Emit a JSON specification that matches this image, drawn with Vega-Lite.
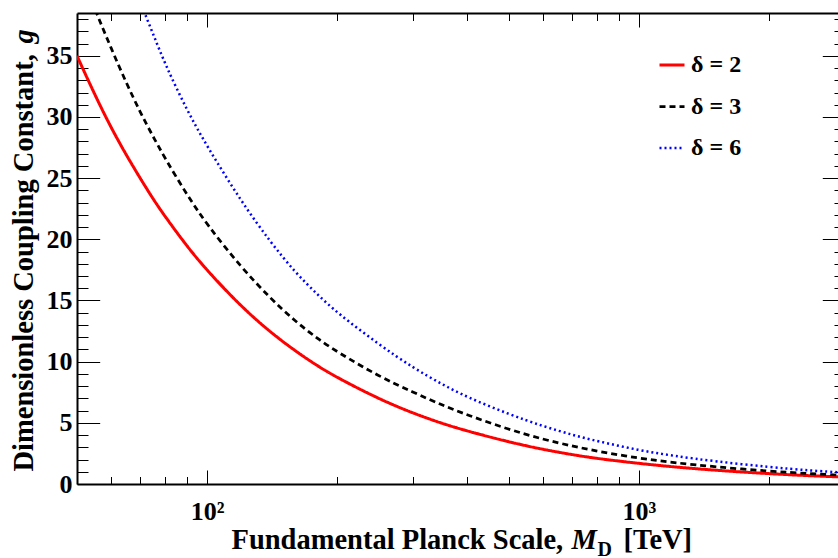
{
  "$schema": "https://vega.github.io/schema/vega-lite/v6.json",
  "width": 768,
  "height": 471,
  "autosize": {"type": "none"},
  "padding": {"left": 77, "top": 13, "right": 0, "bottom": 74},
  "background": "white",
  "config": {
    "view": {"stroke": null},
    "axis": {
      "grid": false,
      "domainColor": "black",
      "domainWidth": 2,
      "tickColor": "black",
      "tickWidth": 1,
      "labelFont": "Liberation Serif",
      "labelFontWeight": "bold",
      "labelFontSize": 26,
      "labelColor": "black",
      "titleFont": "Liberation Serif",
      "titleFontWeight": "bold",
      "titleFontSize": 28.5,
      "titleColor": "black",
      "labelFlush": false,
      "labelOverlap": false
    },
    "legend": {
      "labelFont": "Liberation Serif",
      "labelFontWeight": "bold",
      "labelFontSize": 24,
      "labelColor": "black"
    }
  },
  "data": {
    "values": [
      {"M": 50, "g": 35.0, "delta": "δ = 2"},
      {"M": 55, "g": 31.8, "delta": "δ = 2"},
      {"M": 60, "g": 29.1, "delta": "δ = 2"},
      {"M": 65, "g": 26.9, "delta": "δ = 2"},
      {"M": 70, "g": 25.0, "delta": "δ = 2"},
      {"M": 75, "g": 23.3, "delta": "δ = 2"},
      {"M": 80, "g": 21.85, "delta": "δ = 2"},
      {"M": 90, "g": 19.4, "delta": "δ = 2"},
      {"M": 100, "g": 17.45, "delta": "δ = 2"},
      {"M": 120, "g": 14.5, "delta": "δ = 2"},
      {"M": 140, "g": 12.42, "delta": "δ = 2"},
      {"M": 160, "g": 10.88, "delta": "δ = 2"},
      {"M": 180, "g": 9.66, "delta": "δ = 2"},
      {"M": 200, "g": 8.7, "delta": "δ = 2"},
      {"M": 250, "g": 6.95, "delta": "δ = 2"},
      {"M": 300, "g": 5.78, "delta": "δ = 2"},
      {"M": 350, "g": 4.95, "delta": "δ = 2"},
      {"M": 400, "g": 4.33, "delta": "δ = 2"},
      {"M": 500, "g": 3.43, "delta": "δ = 2"},
      {"M": 600, "g": 2.82, "delta": "δ = 2"},
      {"M": 700, "g": 2.4, "delta": "δ = 2"},
      {"M": 800, "g": 2.08, "delta": "δ = 2"},
      {"M": 1000, "g": 1.68, "delta": "δ = 2"},
      {"M": 1200, "g": 1.4, "delta": "δ = 2"},
      {"M": 1500, "g": 1.12, "delta": "δ = 2"},
      {"M": 2000, "g": 0.84, "delta": "δ = 2"},
      {"M": 2500, "g": 0.67, "delta": "δ = 2"},
      {"M": 3000, "g": 0.56, "delta": "δ = 2"},
      {"M": 50, "g": 42.6, "delta": "δ = 3"},
      {"M": 55, "g": 38.8, "delta": "δ = 3"},
      {"M": 60, "g": 35.6, "delta": "δ = 3"},
      {"M": 65, "g": 32.8, "delta": "δ = 3"},
      {"M": 70, "g": 30.4, "delta": "δ = 3"},
      {"M": 75, "g": 28.4, "delta": "δ = 3"},
      {"M": 80, "g": 26.6, "delta": "δ = 3"},
      {"M": 90, "g": 23.6, "delta": "δ = 3"},
      {"M": 100, "g": 21.2, "delta": "δ = 3"},
      {"M": 120, "g": 17.7, "delta": "δ = 3"},
      {"M": 140, "g": 15.2, "delta": "δ = 3"},
      {"M": 160, "g": 13.3, "delta": "δ = 3"},
      {"M": 180, "g": 11.9, "delta": "δ = 3"},
      {"M": 200, "g": 10.8, "delta": "δ = 3"},
      {"M": 250, "g": 8.8, "delta": "δ = 3"},
      {"M": 300, "g": 7.5, "delta": "δ = 3"},
      {"M": 350, "g": 6.45, "delta": "δ = 3"},
      {"M": 400, "g": 5.65, "delta": "δ = 3"},
      {"M": 500, "g": 4.45, "delta": "δ = 3"},
      {"M": 600, "g": 3.65, "delta": "δ = 3"},
      {"M": 700, "g": 3.1, "delta": "δ = 3"},
      {"M": 800, "g": 2.68, "delta": "δ = 3"},
      {"M": 1000, "g": 2.1, "delta": "δ = 3"},
      {"M": 1200, "g": 1.75, "delta": "δ = 3"},
      {"M": 1500, "g": 1.4, "delta": "δ = 3"},
      {"M": 2000, "g": 1.05, "delta": "δ = 3"},
      {"M": 2500, "g": 0.84, "delta": "δ = 3"},
      {"M": 3000, "g": 0.7, "delta": "δ = 3"},
      {"M": 60, "g": 46.0, "delta": "δ = 6"},
      {"M": 65, "g": 42.5, "delta": "δ = 6"},
      {"M": 70, "g": 39.4, "delta": "δ = 6"},
      {"M": 75, "g": 36.8, "delta": "δ = 6"},
      {"M": 80, "g": 34.3, "delta": "δ = 6"},
      {"M": 90, "g": 30.5, "delta": "δ = 6"},
      {"M": 100, "g": 27.6, "delta": "δ = 6"},
      {"M": 120, "g": 23.1, "delta": "δ = 6"},
      {"M": 140, "g": 19.8, "delta": "δ = 6"},
      {"M": 160, "g": 17.3, "delta": "δ = 6"},
      {"M": 180, "g": 15.5, "delta": "δ = 6"},
      {"M": 200, "g": 14.0, "delta": "δ = 6"},
      {"M": 250, "g": 11.4, "delta": "δ = 6"},
      {"M": 300, "g": 9.5, "delta": "δ = 6"},
      {"M": 350, "g": 8.15, "delta": "δ = 6"},
      {"M": 400, "g": 7.1, "delta": "δ = 6"},
      {"M": 500, "g": 5.7, "delta": "δ = 6"},
      {"M": 600, "g": 4.72, "delta": "δ = 6"},
      {"M": 700, "g": 4.02, "delta": "δ = 6"},
      {"M": 800, "g": 3.5, "delta": "δ = 6"},
      {"M": 1000, "g": 2.76, "delta": "δ = 6"},
      {"M": 1200, "g": 2.3, "delta": "δ = 6"},
      {"M": 1500, "g": 1.85, "delta": "δ = 6"},
      {"M": 2000, "g": 1.38, "delta": "δ = 6"},
      {"M": 2500, "g": 1.1, "delta": "δ = 6"},
      {"M": 3000, "g": 0.92, "delta": "δ = 6"}
    ]
  },
  "resolve": {"axis": {"x": "independent", "y": "independent"}},
  "layer": [
    {
      "mark": {"type": "line", "clip": true, "interpolate": "basis"},
      "encoding": {
        "x": {
          "field": "M", "type": "quantitative",
          "scale": {"type": "log", "domain": [50, 3000], "nice": false},
          "axis": {
            "orient": "bottom",
            "values": [100, 1000],
            "labelExpr": "datum.value == 100 ? '10²' : '10³'",
            "tickSize": -14,
            "labelPadding": 28.5,
            "labelBaseline": "top",
            "title": "Fundamental Planck Scale,",
            "titleX": 154, "titleY": 64,
            "titleAlign": "left", "titleBaseline": "alphabetic", "titleAngle": 0
          }
        },
        "y": {
          "field": "g", "type": "quantitative",
          "scale": {"domain": [0, 38.5], "nice": false, "zero": true},
          "axis": {
            "orient": "left",
            "values": [0, 5, 10, 15, 20, 25, 30, 35],
            "tickSize": -22.7,
            "labelPadding": 27.7,
            "labelBaseline": "middle",
            "title": "Dimensionless Coupling Constant,",
            "titleX": -45, "titleY": 458,
            "titleAlign": "left", "titleBaseline": "alphabetic", "titleAngle": 270
          }
        },
        "color": {
          "field": "delta", "type": "nominal",
          "scale": {"domain": ["δ = 2", "δ = 3", "δ = 6"], "range": ["#ff0000", "#000000", "#0000ff"]},
          "legend": {
            "orient": "none", "legendX": 581, "legendY": 38,
            "title": null, "symbolType": "stroke", "symbolSize": 625,
            "symbolStrokeWidth": 2.5, "labelOffset": 5, "rowPadding": 15.5
          }
        },
        "strokeDash": {
          "field": "delta", "type": "nominal",
          "scale": {"domain": ["δ = 2", "δ = 3", "δ = 6"], "range": [[1, 0], [6, 4], [2, 3]]},
          "legend": {
            "orient": "none", "legendX": 581, "legendY": 38,
            "title": null, "symbolType": "stroke", "symbolSize": 625,
            "symbolStrokeWidth": 2.5, "labelOffset": 5, "rowPadding": 15.5
          }
        },
        "strokeWidth": {
          "field": "delta", "type": "nominal",
          "scale": {"domain": ["δ = 2", "δ = 3", "δ = 6"], "range": [3, 2.5, 2]},
          "legend": null
        }
      }
    },
    {
      "mark": {"type": "point", "opacity": 0},
      "encoding": {
        "x": {
          "field": "M", "type": "quantitative",
          "axis": {
            "orient": "bottom",
            "values": [60, 70, 80, 90, 200, 300, 400, 500, 600, 700, 800, 900, 2000, 3000],
            "labels": false, "tickSize": -7.5, "domain": false,
            "title": "M", "titleFontStyle": "italic",
            "titleX": 494, "titleY": 64,
            "titleAlign": "left", "titleBaseline": "alphabetic", "titleAngle": 0
          }
        },
        "y": {
          "field": "g", "type": "quantitative",
          "axis": {
            "orient": "left",
            "values": [1, 2, 3, 4, 6, 7, 8, 9, 11, 12, 13, 14, 16, 17, 18, 19, 21, 22, 23, 24, 26, 27, 28, 29, 31, 32, 33, 34, 36, 37, 38],
            "labels": false, "tickSize": -11, "domain": false,
            "title": "g", "titleFontStyle": "italic",
            "titleX": -45, "titleY": 30,
            "titleAlign": "left", "titleBaseline": "alphabetic", "titleAngle": 270
          }
        }
      }
    },
    {
      "mark": {"type": "point", "opacity": 0},
      "encoding": {
        "x": {
          "field": "M", "type": "quantitative",
          "axis": {
            "orient": "top",
            "values": [100, 1000],
            "labels": false, "tickSize": -14,
            "title": "D", "titleFontSize": 20,
            "titleX": 520, "titleY": 542,
            "titleAlign": "left", "titleBaseline": "alphabetic", "titleAngle": 0
          }
        },
        "y": {
          "field": "g", "type": "quantitative",
          "axis": {
            "orient": "right",
            "values": [0, 5, 10, 15, 20, 25, 30, 35],
            "labels": false, "tickSize": -22.7,
            "title": null
          }
        }
      }
    },
    {
      "mark": {"type": "point", "opacity": 0},
      "encoding": {
        "x": {
          "field": "M", "type": "quantitative",
          "axis": {
            "orient": "top",
            "values": [60, 70, 80, 90, 200, 300, 400, 500, 600, 700, 800, 900, 2000, 3000],
            "labels": false, "tickSize": -7.5, "domain": false,
            "title": "[TeV]",
            "titleX": 546, "titleY": 535,
            "titleAlign": "left", "titleBaseline": "alphabetic", "titleAngle": 0
          }
        },
        "y": {
          "field": "g", "type": "quantitative",
          "axis": {
            "orient": "right",
            "values": [1, 2, 3, 4, 6, 7, 8, 9, 11, 12, 13, 14, 16, 17, 18, 19, 21, 22, 23, 24, 26, 27, 28, 29, 31, 32, 33, 34, 36, 37, 38],
            "labels": false, "tickSize": -11, "domain": false,
            "title": null
          }
        }
      }
    }
  ]
}
